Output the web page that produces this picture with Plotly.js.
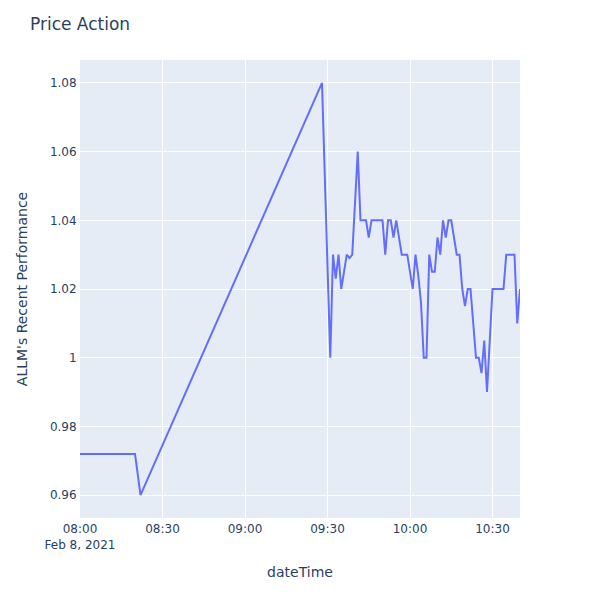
<!DOCTYPE html>
<html>
<head>
<meta charset="utf-8">
<script src="https://cdn.plot.ly/plotly-3.0.1.min.js"></script>
<style>html,body{margin:0;padding:0;background:#fff;}#chart{width:600px;height:600px;}</style>
</head>
<body>
<div id="chart"></div>
<script>
const dateTime = [
  "2021-02-08 08:00","2021-02-08 08:01","2021-02-08 08:02","2021-02-08 08:03","2021-02-08 08:04",
  "2021-02-08 08:05","2021-02-08 08:06","2021-02-08 08:07","2021-02-08 08:08","2021-02-08 08:09",
  "2021-02-08 08:10","2021-02-08 08:11","2021-02-08 08:12","2021-02-08 08:13","2021-02-08 08:14",
  "2021-02-08 08:15","2021-02-08 08:16","2021-02-08 08:17","2021-02-08 08:18","2021-02-08 08:19",
  "2021-02-08 08:20","2021-02-08 08:21","2021-02-08 08:22",
  "2021-02-08 09:28","2021-02-08 09:29","2021-02-08 09:30","2021-02-08 09:31","2021-02-08 09:32",
  "2021-02-08 09:33","2021-02-08 09:34","2021-02-08 09:35","2021-02-08 09:36","2021-02-08 09:37",
  "2021-02-08 09:38","2021-02-08 09:39","2021-02-08 09:40","2021-02-08 09:41","2021-02-08 09:42",
  "2021-02-08 09:43","2021-02-08 09:44","2021-02-08 09:45","2021-02-08 09:46","2021-02-08 09:47",
  "2021-02-08 09:48","2021-02-08 09:49","2021-02-08 09:50","2021-02-08 09:51","2021-02-08 09:52",
  "2021-02-08 09:53","2021-02-08 09:54","2021-02-08 09:55","2021-02-08 09:56","2021-02-08 09:57",
  "2021-02-08 09:58","2021-02-08 09:59","2021-02-08 10:00","2021-02-08 10:01","2021-02-08 10:02",
  "2021-02-08 10:03","2021-02-08 10:04","2021-02-08 10:05","2021-02-08 10:06","2021-02-08 10:07",
  "2021-02-08 10:08","2021-02-08 10:09","2021-02-08 10:10","2021-02-08 10:11","2021-02-08 10:12",
  "2021-02-08 10:13","2021-02-08 10:14","2021-02-08 10:15","2021-02-08 10:16","2021-02-08 10:17",
  "2021-02-08 10:18","2021-02-08 10:19","2021-02-08 10:20","2021-02-08 10:21","2021-02-08 10:22",
  "2021-02-08 10:23","2021-02-08 10:24","2021-02-08 10:25","2021-02-08 10:26","2021-02-08 10:27",
  "2021-02-08 10:28","2021-02-08 10:29","2021-02-08 10:30","2021-02-08 10:31","2021-02-08 10:32",
  "2021-02-08 10:33","2021-02-08 10:34","2021-02-08 10:35","2021-02-08 10:36","2021-02-08 10:37",
  "2021-02-08 10:38","2021-02-08 10:39","2021-02-08 10:40"
];
const performance = [
  0.972,0.972,0.972,0.972,0.972,
  0.972,0.972,0.972,0.972,0.972,
  0.972,0.972,0.972,0.972,0.972,
  0.972,0.972,0.972,0.972,0.972,
  0.972,0.966,0.96,
  1.08,1.053,1.027,1.00,1.03,
  1.023,1.03,1.02,1.025,1.03,
  1.029,1.03,1.045,1.06,1.04,
  1.04,1.04,1.035,1.04,1.04,
  1.04,1.04,1.04,1.03,1.04,
  1.04,1.035,1.04,1.035,1.03,
  1.03,1.03,1.025,1.02,1.03,
  1.024,1.016,1.00,1.00,1.03,
  1.025,1.025,1.035,1.03,1.04,
  1.035,1.04,1.04,1.035,1.03,
  1.03,1.02,1.015,1.02,1.02,
  1.01,1.00,1.00,0.9955,1.005,
  0.99,1.005,1.02,1.02,1.02,
  1.02,1.02,1.03,1.03,1.03,
  1.03,1.01,1.02
];

const fontColor = "#2a3f5f";
Plotly.newPlot("chart", [{
  x: dateTime,
  y: performance,
  type: "scatter",
  mode: "lines",
  line: {color: "#636efa", width: 2}
}], {
  width: 600, height: 600,
  margin: {l: 80, r: 80, t: 60, b: 82},
  paper_bgcolor: "#ffffff",
  plot_bgcolor: "#E5ECF6",
  font: {family: "'DejaVu Sans', verdana, arial, sans-serif", size: 12, color: fontColor},
  title: {text: "Price Action", x: 0.05, xanchor: "left", font: {size: 17, color: fontColor}},
  showlegend: false,
  xaxis: {
    title: {text: "dateTime", font: {size: 14}, standoff: 16},
    gridcolor: "#ffffff", linecolor: "#ffffff", zerolinecolor: "#ffffff",
    ticks: "", automargin: true
  },
  yaxis: {
    title: {text: "ALLM's Recent Performance", font: {size: 14}, standoff: 18},
    gridcolor: "#ffffff", linecolor: "#ffffff", zerolinecolor: "#ffffff", zerolinewidth: 2,
    ticks: "", automargin: true
  }
}, {displayModeBar: false});
</script>
</body>
</html>
